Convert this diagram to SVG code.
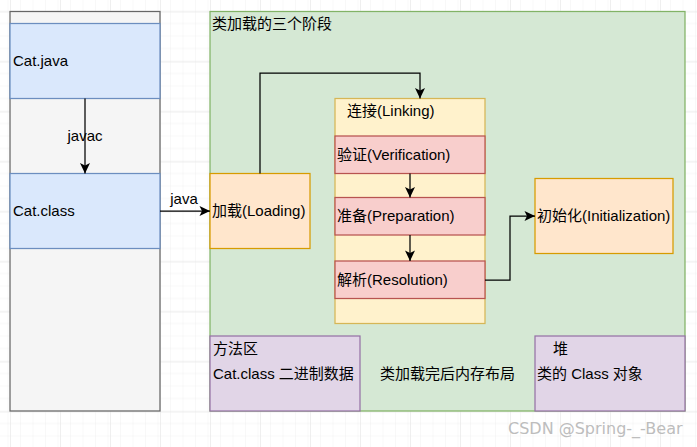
<svg xmlns="http://www.w3.org/2000/svg" width="697" height="447" viewBox="0 0 697 447">
<defs>
<pattern id="minor" x="10" y="11.5" width="12.5" height="12.5" patternUnits="userSpaceOnUse">
<path d="M12.5 0 L0 0 L0 12.5" fill="none" stroke="#f0f0f0" stroke-width="1"/>
</pattern>
<pattern id="major" x="10" y="11.5" width="50" height="50" patternUnits="userSpaceOnUse">
<rect width="50" height="50" fill="url(#minor)"/>
<path d="M50 0 L0 0 L0 50" fill="none" stroke="#e0e0e0" stroke-width="1"/>
</pattern>
<marker id="arr" markerUnits="userSpaceOnUse" markerWidth="12" markerHeight="12" viewBox="-11 -6 12 12" refX="0" refY="0" orient="auto">
<path d="M-10.5 -5 L0 0 L-10.5 5 L-8 0 Z" fill="#000"/>
</marker>
<style>
text{font-family:"Liberation Sans","Noto Sans CJK SC",sans-serif;font-size:15px;fill:#000}
.blue{fill:#dae8fc;stroke:#6c8ebf;stroke-width:1.25}
.gray{fill:#f5f5f5;stroke:#666;stroke-width:1.25}
.green{fill:#d5e8d4;stroke:#82b366;stroke-width:1.25}
.orange{fill:#ffe6cc;stroke:#d79b00;stroke-width:1.25}
.yellow{fill:#fff2cc;stroke:#d6b656;stroke-width:1.25}
.red{fill:#f8cecc;stroke:#b85450;stroke-width:1.25}
.purple{fill:#e1d5e7;stroke:#9673a6;stroke-width:1.25}
.edge{fill:none;stroke:#000;stroke-width:1.25;marker-end:url(#arr)}
.wm{font-family:"DejaVu Sans","Liberation Sans",sans-serif;font-size:16px;fill:#bdbdbd}
</style>
</defs>
<rect width="697" height="447" fill="#fff"/>
<rect width="697" height="447" fill="url(#major)"/>

<g id="left-column">
<rect class="gray" x="10" y="11.5" width="150" height="399.5"/>
</g>
<g id="cat-java">
<rect class="blue" x="10" y="23.5" width="150" height="75"/>
<text x="13" y="66">Cat.java</text>
</g>
<g id="cat-class">
<rect class="blue" x="10" y="173.5" width="150" height="75"/>
<text x="13" y="216">Cat.class</text>
</g>

<g id="class-loading">
<rect class="green" x="210" y="11.5" width="475" height="399.5"/>
<text x="212" y="29">类加载的三个阶段</text>
</g>
<g id="loading">
<rect class="orange" x="210" y="173.5" width="100" height="75"/>
<text x="212" y="216">加载(Loading)</text>
</g>
<g id="linking">
<rect class="yellow" x="335" y="98.5" width="150" height="225"/>
<text x="347" y="116">连接(Linking)</text>
</g>
<g id="verification">
<rect class="red" x="335" y="136" width="150" height="37.5"/>
<text x="337" y="160">验证(Verification)</text>
</g>
<g id="preparation">
<rect class="red" x="335" y="197.5" width="150" height="37.5"/>
<text x="337" y="221">准备(Preparation)</text>
</g>
<g id="resolution">
<rect class="red" x="335" y="261" width="150" height="37.5"/>
<text x="337" y="285">解析(Resolution)</text>
</g>
<g id="initialization">
<rect class="orange" x="535" y="178.5" width="138" height="75"/>
<text x="537" y="221">初始化(Initialization)</text>
</g>
<g id="method-area">
<rect class="purple" x="210" y="336" width="150" height="75"/>
<text x="213" y="354">方法区</text>
<text x="213" y="379">Cat.class 二进制数据</text>
</g>
<g id="memory-layout">
<text x="380" y="379">类加载完后内存布局</text>
</g>
<g id="heap">
<rect class="purple" x="535" y="336" width="150" height="75"/>
<text x="553" y="354">堆</text>
<text x="537" y="379">类的 Class 对象</text>
</g>

<g id="connectors">
<path class="edge" d="M85 98.5 L85 173.5"/>
<text x="85" y="141" text-anchor="middle">javac</text>
<path class="edge" d="M160 211 L210 211"/>
<text x="184" y="204" text-anchor="middle">java</text>
<path class="edge" d="M260 173.5 L260 73 L420 73 L420 98.5"/>
<path class="edge" d="M410 173.5 L410 197.5"/>
<path class="edge" d="M410 235 L410 261"/>
<path class="edge" d="M485 280 L510 280 L510 216 L535 216"/>
</g>

<text class="wm" x="508" y="434">CSDN @Spring-_-Bear</text>
</svg>
